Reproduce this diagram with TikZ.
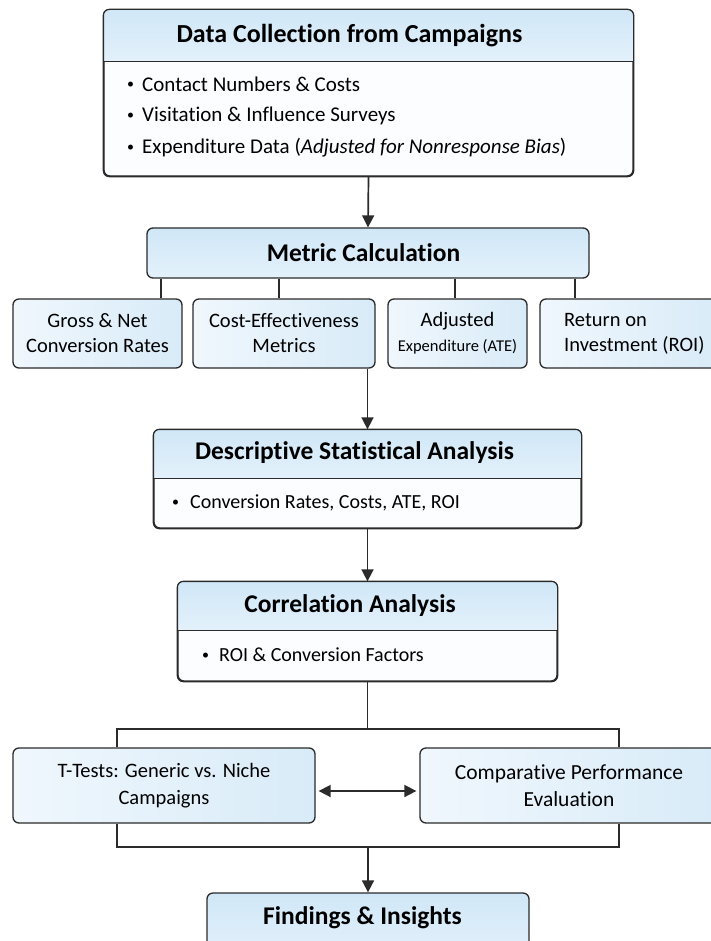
\documentclass[tikz,border=0pt]{standalone}
\usepackage{fontspec}
\setmainfont{Carlito}[Ligatures=NoCommon]
\usetikzlibrary{arrows.meta}
\definecolor{bd}{HTML}{2B2B2B}
\definecolor{hdtop}{HTML}{D0E7F7}
\definecolor{hdbot}{HTML}{E3F1FB}
\definecolor{bxl}{HTML}{F0F7FD}
\definecolor{bxr}{HTML}{D8EBF8}
\definecolor{body}{HTML}{FBFDFF}
\newcommand{\bul}{\raisebox{0.12em}{\fontsize{14}{14}\selectfont\textbullet}}
\tikzset{
  box/.style={draw=bd, line width=1.3pt, rounded corners=6pt, inner sep=0pt},
  hbox/.style={box, fill=body},
  hdr/.style={box, top color=hdtop, bottom color=hdbot},
  sbox/.style={box, left color=bxl, right color=bxr, align=center, font=\fontsize{20.5}{25}\selectfont},
  ttl/.style={font=\bfseries\fontsize{25.5}{28}\selectfont, text=black, inner sep=0pt},
  itm/.style={anchor=west, font=\fontsize{20}{22}\selectfont, inner sep=0pt},
  ln/.style={draw=bd, line width=1.7pt},
  tip/.tip={Triangle[length=12pt,width=12pt]},
  arr/.style={ln, -tip},
}
\newcommand{\hband}[2]{%
  \begin{scope}
    \clip[rounded corners=6pt] (#1.north west) rectangle (#1.south east);
    \shade[top color=hdtop, bottom color=hdbot] (#1.north west) rectangle (#1.east |- 0,#2);
  \end{scope}
  \draw[bd, line width=1pt] (#1.west |- 0,#2) -- (#1.east |- 0,#2);
  \draw[bd, line width=1.3pt, rounded corners=6pt] (#1.north west) rectangle (#1.south east);
}
\begin{document}
\begin{tikzpicture}[x=1pt, y=-1pt]
\useasboundingbox (0,0) rectangle (711,941);
\fill[white] (0,0) rectangle (711,941);

% Data collection
\node[hbox, minimum width=529pt, minimum height=166pt] (dc) at (368.5,93) {};
\hband{dc}{62}
\node[ttl, font=\bfseries\fontsize{26}{28}\selectfont] (dct) at (349.5,36) {Data Collection from Campaigns};
\node[itm, font=\fontsize{21}{22}\selectfont] (dc1) at (127,84) {\bul\hspace{8pt}Contact Numbers \& Costs};
\node[itm, font=\fontsize{21}{22}\selectfont] (dc2) at (127,116) {\bul\hspace{8pt}Visitation \& Influence Surveys};
\node[itm, font=\fontsize{21}{22}\selectfont] (dc3) at (127,148) {\bul\hspace{8pt}Expenditure Data (\textit{Adjusted for Nonresponse Bias})};

% Metric calculation
\node[hdr, minimum width=442pt, minimum height=50pt] (mc) at (368,253) {};
\node[ttl] (mct) at (363.5,253) {Metric Calculation};
\draw[arr] (dc.south) -- (mc.north);

% metric boxes
\node[sbox, minimum width=169pt, minimum height=69pt] (ga) at (97.5,333.5) {Gross \& Net\\Conversion Rates};
\node[sbox, minimum width=182pt, minimum height=69pt] (ce) at (284,333.5) {Cost-Effectiveness\\Metrics};
\node[sbox, minimum width=139pt, minimum height=69pt] (ae) at (457.5,333.5) {Adjusted\\{\fontsize{16.5}{18}\selectfont Expenditure (ATE)}};
\node[sbox, minimum width=180pt, minimum height=69pt] (ri) at (630,333.5) {};
\node[anchor=west, align=left, inner sep=0pt, font=\fontsize{20.5}{25}\selectfont] (rit) at (564,333.5) {Return on\\Investment (ROI)};

\coordinate (l1) at (161,0);
\coordinate (l2) at (279,0);
\coordinate (l3) at (455,0);
\coordinate (l4) at (575,0);
\draw[ln] (mc.south -| l1) -- (ga.north -| l1);
\draw[ln] (mc.south -| l2) -- (ce.north -| l2);
\draw[ln] (mc.south -| l3) -- (ae.north -| l3);
\draw[ln] (mc.south -| l4) -- (ri.north -| l4);

% Descriptive
\node[hbox, minimum width=427pt, minimum height=98pt] (ds) at (367.5,479) {};
\hband{ds}{478}
\node[ttl] (dst) at (354.5,453) {Descriptive Statistical Analysis};
\node[itm] (ds1) at (172,503) {\bul\hspace{11pt}Conversion Rates, Costs, ATE, ROI};
\draw[arr] (ce.south -| ds.north) -- (ds.north);

% Correlation
\node[hbox, minimum width=379pt, minimum height=99pt] (co) at (367.5,631.5) {};
\hband{co}{630}
\node[ttl] (cot) at (350,606) {Correlation Analysis};
\node[itm] (co1) at (202,655) {\bul\hspace{10pt}ROI \& Conversion Factors};
\draw[arr] (ds.south) -- (co.north);

% Tests
\node[sbox, minimum width=302pt, minimum height=75pt, font=\fontsize{20.5}{27}\selectfont] (tt) at (164,785.5) {T-Tests: Generic vs. Niche\\Campaigns};
\node[sbox, minimum width=298pt, minimum height=75pt, font=\fontsize{21.5}{27}\selectfont] (cp) at (569,785.5) {Comparative Performance\\Evaluation};
\coordinate (bL) at (117,729);
\coordinate (bR) at (619,729);
\coordinate (bLb) at (117,847);
\coordinate (bRb) at (619,847);
\draw[ln] (co.south) -- (co.south |- bL);
\draw[ln] (tt.north -| bL) -- (bL) -- (bR) -- (cp.north -| bR);
\draw[ln] (tt.south -| bLb) -- (bLb) -- (bRb) -- (cp.south -| bRb);
\draw[ln, tip-tip, shorten <=3pt, shorten >=3pt] ([yshift=-5.5pt]tt.east) -- ([yshift=-5.5pt]cp.west);

% Findings
\node[hdr, minimum width=322pt, minimum height=62pt] (fi) at (368,924) {};
\node[ttl] (fit) at (362.5,918) {Findings \& Insights};
\draw[arr] (bLb -| fi.north) -- (fi.north);
\end{tikzpicture}
\end{document}
